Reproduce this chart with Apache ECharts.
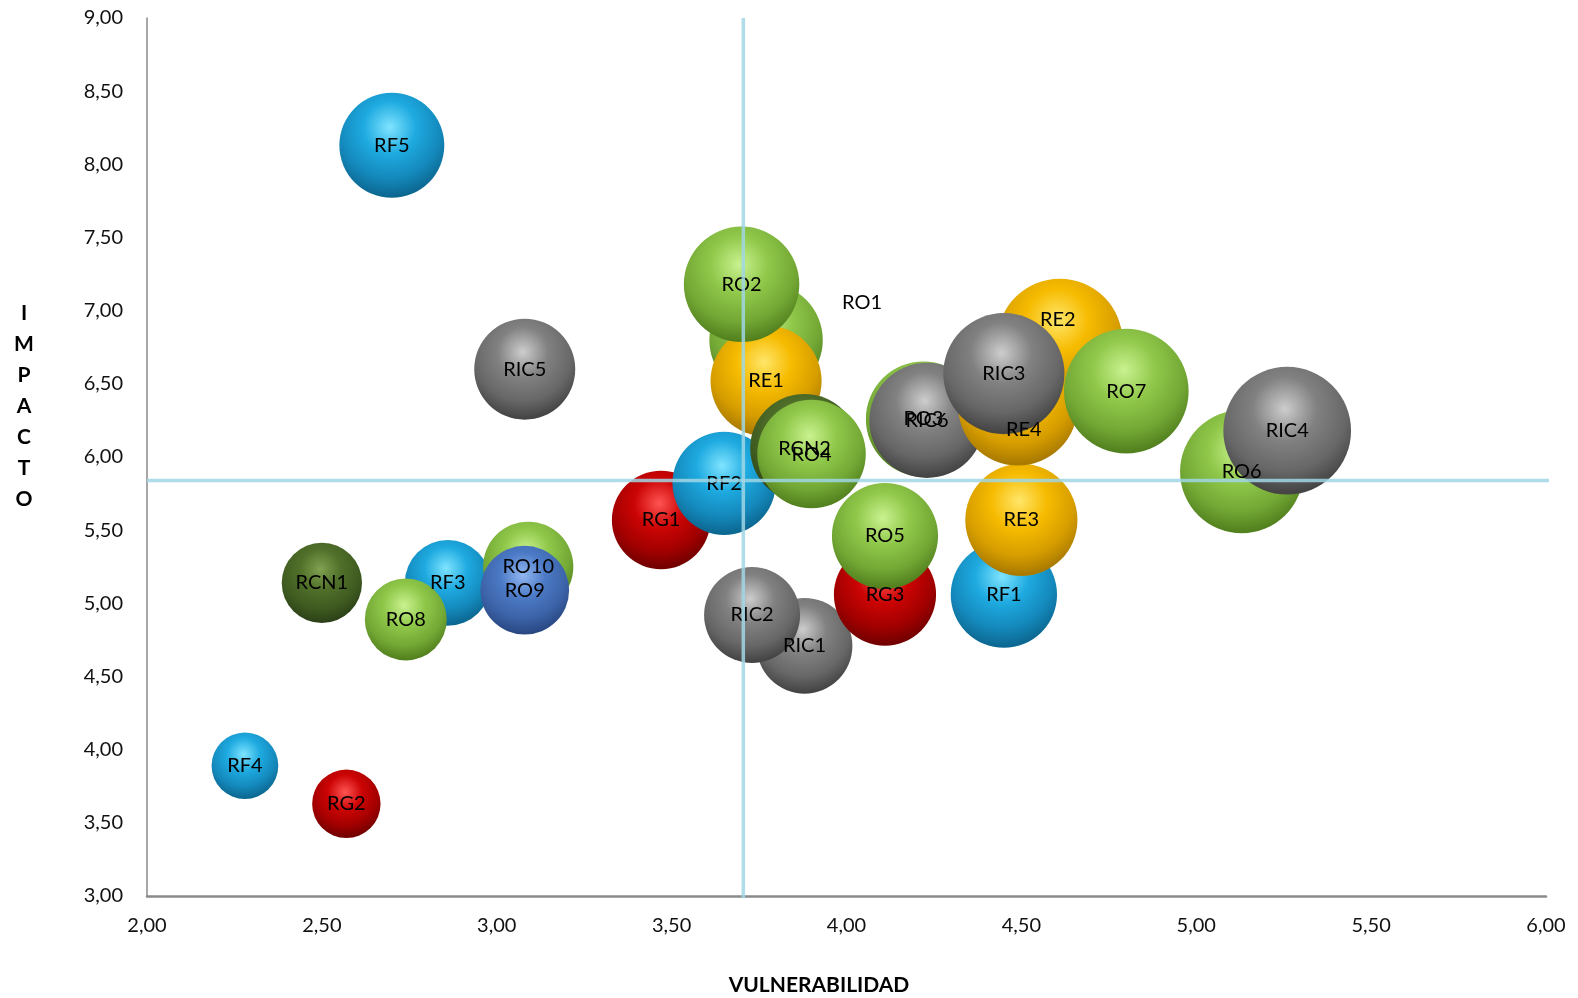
<!DOCTYPE html>
<html>
<head>
<meta charset="utf-8">
<title>Mapa de riesgos</title>
<script src="https://cdn.jsdelivr.net/npm/echarts@6/dist/echarts.min.js"></script>
<style>
  html, body { margin: 0; padding: 0; background: #ffffff; }
  #chart { width: 1578px; height: 998px; }
</style>
</head>
<body>
<div id="chart"></div>
<script>
// Riesgos en orden de dibujo (los últimos quedan encima)
const riesgos = ['RCN1','RF4','RG2','RF5','RIC5','RF3','RO8','RO10','RO9','RG1','RF2','RO1','RE1','RO2','RCN2','RO4',
                 'RIC1','RIC2','RG3','RO5','RF1','RE3','RO3','RIC6','RE2','RE4','RIC3','RO7','RO6','RIC4'];
const vulnerabilidad = [2.50,2.28,2.57,2.70,3.08,2.86,2.74,3.09,3.08,3.47,3.65,3.77,3.77,3.70,3.88,3.90,
                        3.88,3.73,4.11,4.11,4.45,4.50,4.22,4.23,4.61,4.49,4.45,4.80,5.13,5.26];
const impacto = [5.14,3.89,3.63,8.13,6.60,5.14,4.89,5.25,5.09,5.57,5.82,6.80,6.52,7.18,6.06,6.02,
                 4.71,4.92,5.06,5.46,5.06,5.57,6.26,6.25,6.79,6.35,6.57,6.45,5.90,6.18];
// Nivel de riesgo (tamaño de la burbuja)
const nivel = [12.85,8.87,9.33,21.95,20.33,14.70,13.40,16.22,15.68,19.33,21.24,25.64,24.58,26.57,23.51,23.48,
               18.27,18.35,20.80,22.44,22.52,25.07,26.42,26.44,31.30,28.51,29.24,30.96,30.27,32.51];
const ticksX = [2.0,2.5,3.0,3.5,4.0,4.5,5.0,5.5,6.0];
const ticksY = [3.0,3.5,4.0,4.5,5.0,5.5,6.0,6.5,7.0,7.5,8.0,8.5,9.0];
// Promedios que dividen el mapa en cuadrantes
const mediaVulnerabilidad = 3.705;
const mediaImpacto = 5.84;

// Tonos de las esferas: [brillo, base, media sombra, sombra, borde]
const tonos = {
  RF:  ['#7fe4ff','#1eaae0','#1488bb','#0c6790','#1b92c4'],
  RG:  ['#ff5454','#cc0404','#a20000','#720000','#a00000'],
  RE:  ['#ffe66a','#f6bb00','#d69d00','#a87900','#d9a300'],
  RIC: ['#cdcdcd','#818181','#676767','#444444','#6a6a6a'],
  RO:  ['#caf290','#90c84a','#73a835','#52801e','#7ab238'],
  RCN: ['#80a250','#51702a','#3f5b20','#2c4118','#46632b'],
  RO9: ['#92b8f2','#4c7ac6','#3c63a8','#294883','#3e66ab']
};
function tonoDe(nombre) {
  if (tonos[nombre]) return tonos[nombre];
  return tonos[nombre.replace(/\d+$/, '')];
}
function esfera(nombre) {
  const t = tonoDe(nombre);
  return {
    type: 'radial', x: 0.48, y: 0.33, r: 0.74,
    colorStops: [
      { offset: 0.00, color: t[0] },
      { offset: 0.34, color: t[1] },
      { offset: 0.66, color: t[2] },
      { offset: 0.89, color: t[3] },
      { offset: 1.00, color: t[4] }
    ]
  };
}
// Etiquetas desplazadas respecto al centro de su burbuja
const etiquetaDesplazada = { RO1: [96, -37], RE2: [-2, -22], RE4: [6, 24] };

const puntos = riesgos.map((n, i) => ({
  name: n,
  value: [vulnerabilidad[i], impacto[i], nivel[i]],
  itemStyle: { color: esfera(n), opacity: 1 },
  label: etiquetaDesplazada[n] ? { offset: etiquetaDesplazada[n] } : undefined
}));

const coma = v => v.toFixed(2).replace('.', ',');
const FUENTE = 'Lato, "Open Sans", sans-serif';

const chart = echarts.init(document.getElementById('chart'), null, { renderer: 'canvas' });
chart.setOption({
  animation: false,
  backgroundColor: '#ffffff',
  grid: { left: 147, right: 32, top: 18, bottom: 102, containLabel: false },
  xAxis: {
    type: 'value', min: ticksX[0], max: ticksX[ticksX.length - 1], interval: 0.5,
    axisLine: { show: true, lineStyle: { color: '#8a8a8a', width: 2.5 } },
    axisTick: { show: false },
    splitLine: { show: false },
    axisLabel: { formatter: coma, color: '#111', fontSize: 20, fontFamily: FUENTE, margin: 20 }
  },
  yAxis: {
    type: 'value', min: ticksY[0], max: ticksY[ticksY.length - 1], interval: 0.5,
    axisLine: { show: true, lineStyle: { color: '#8a8a8a', width: 1.5 } },
    axisTick: { show: false },
    splitLine: { show: false },
    axisLabel: { formatter: coma, color: '#111', fontSize: 20, fontFamily: FUENTE, margin: 24 }
  },
  series: [
    {
      type: 'scatter',
      data: puntos,
      symbolSize: v => 22.4 * Math.sqrt(v[2]),
      itemStyle: { opacity: 1 },
      label: {
        show: true, position: 'inside', formatter: '{b}',
        color: '#000', fontSize: 20, fontFamily: FUENTE
      },
      emphasis: { disabled: true },
      z: 2
    },
    {
      type: 'line',
      data: [[ticksX[0], mediaImpacto], [6.1, mediaImpacto]],
      clip: false, symbol: 'none', silent: true,
      lineStyle: { color: 'rgba(160,214,228,0.85)', width: 3.5 },
      z: 5
    },
    {
      type: 'line',
      data: [[mediaVulnerabilidad, ticksY[ticksY.length - 1]], [mediaVulnerabilidad, 2.985]],
      clip: false, symbol: 'none', silent: true,
      lineStyle: { color: 'rgba(160,214,228,0.85)', width: 3.5 },
      z: 5
    }
  ],
  graphic: [
    {
      type: 'text', x: 819, y: 985,
      style: {
        text: 'VULNERABILIDAD', fill: '#000', font: 'bold 21px ' + FUENTE,
        align: 'center', verticalAlign: 'middle'
      }
    },
    {
      type: 'text', x: 24, y: 298,
      style: {
        text: 'I\nM\nP\nA\nC\nT\nO', fill: '#000', font: 'bold 21px ' + FUENTE,
        align: 'center', lineHeight: 31
      }
    }
  ]
});
</script>
</body>
</html>
